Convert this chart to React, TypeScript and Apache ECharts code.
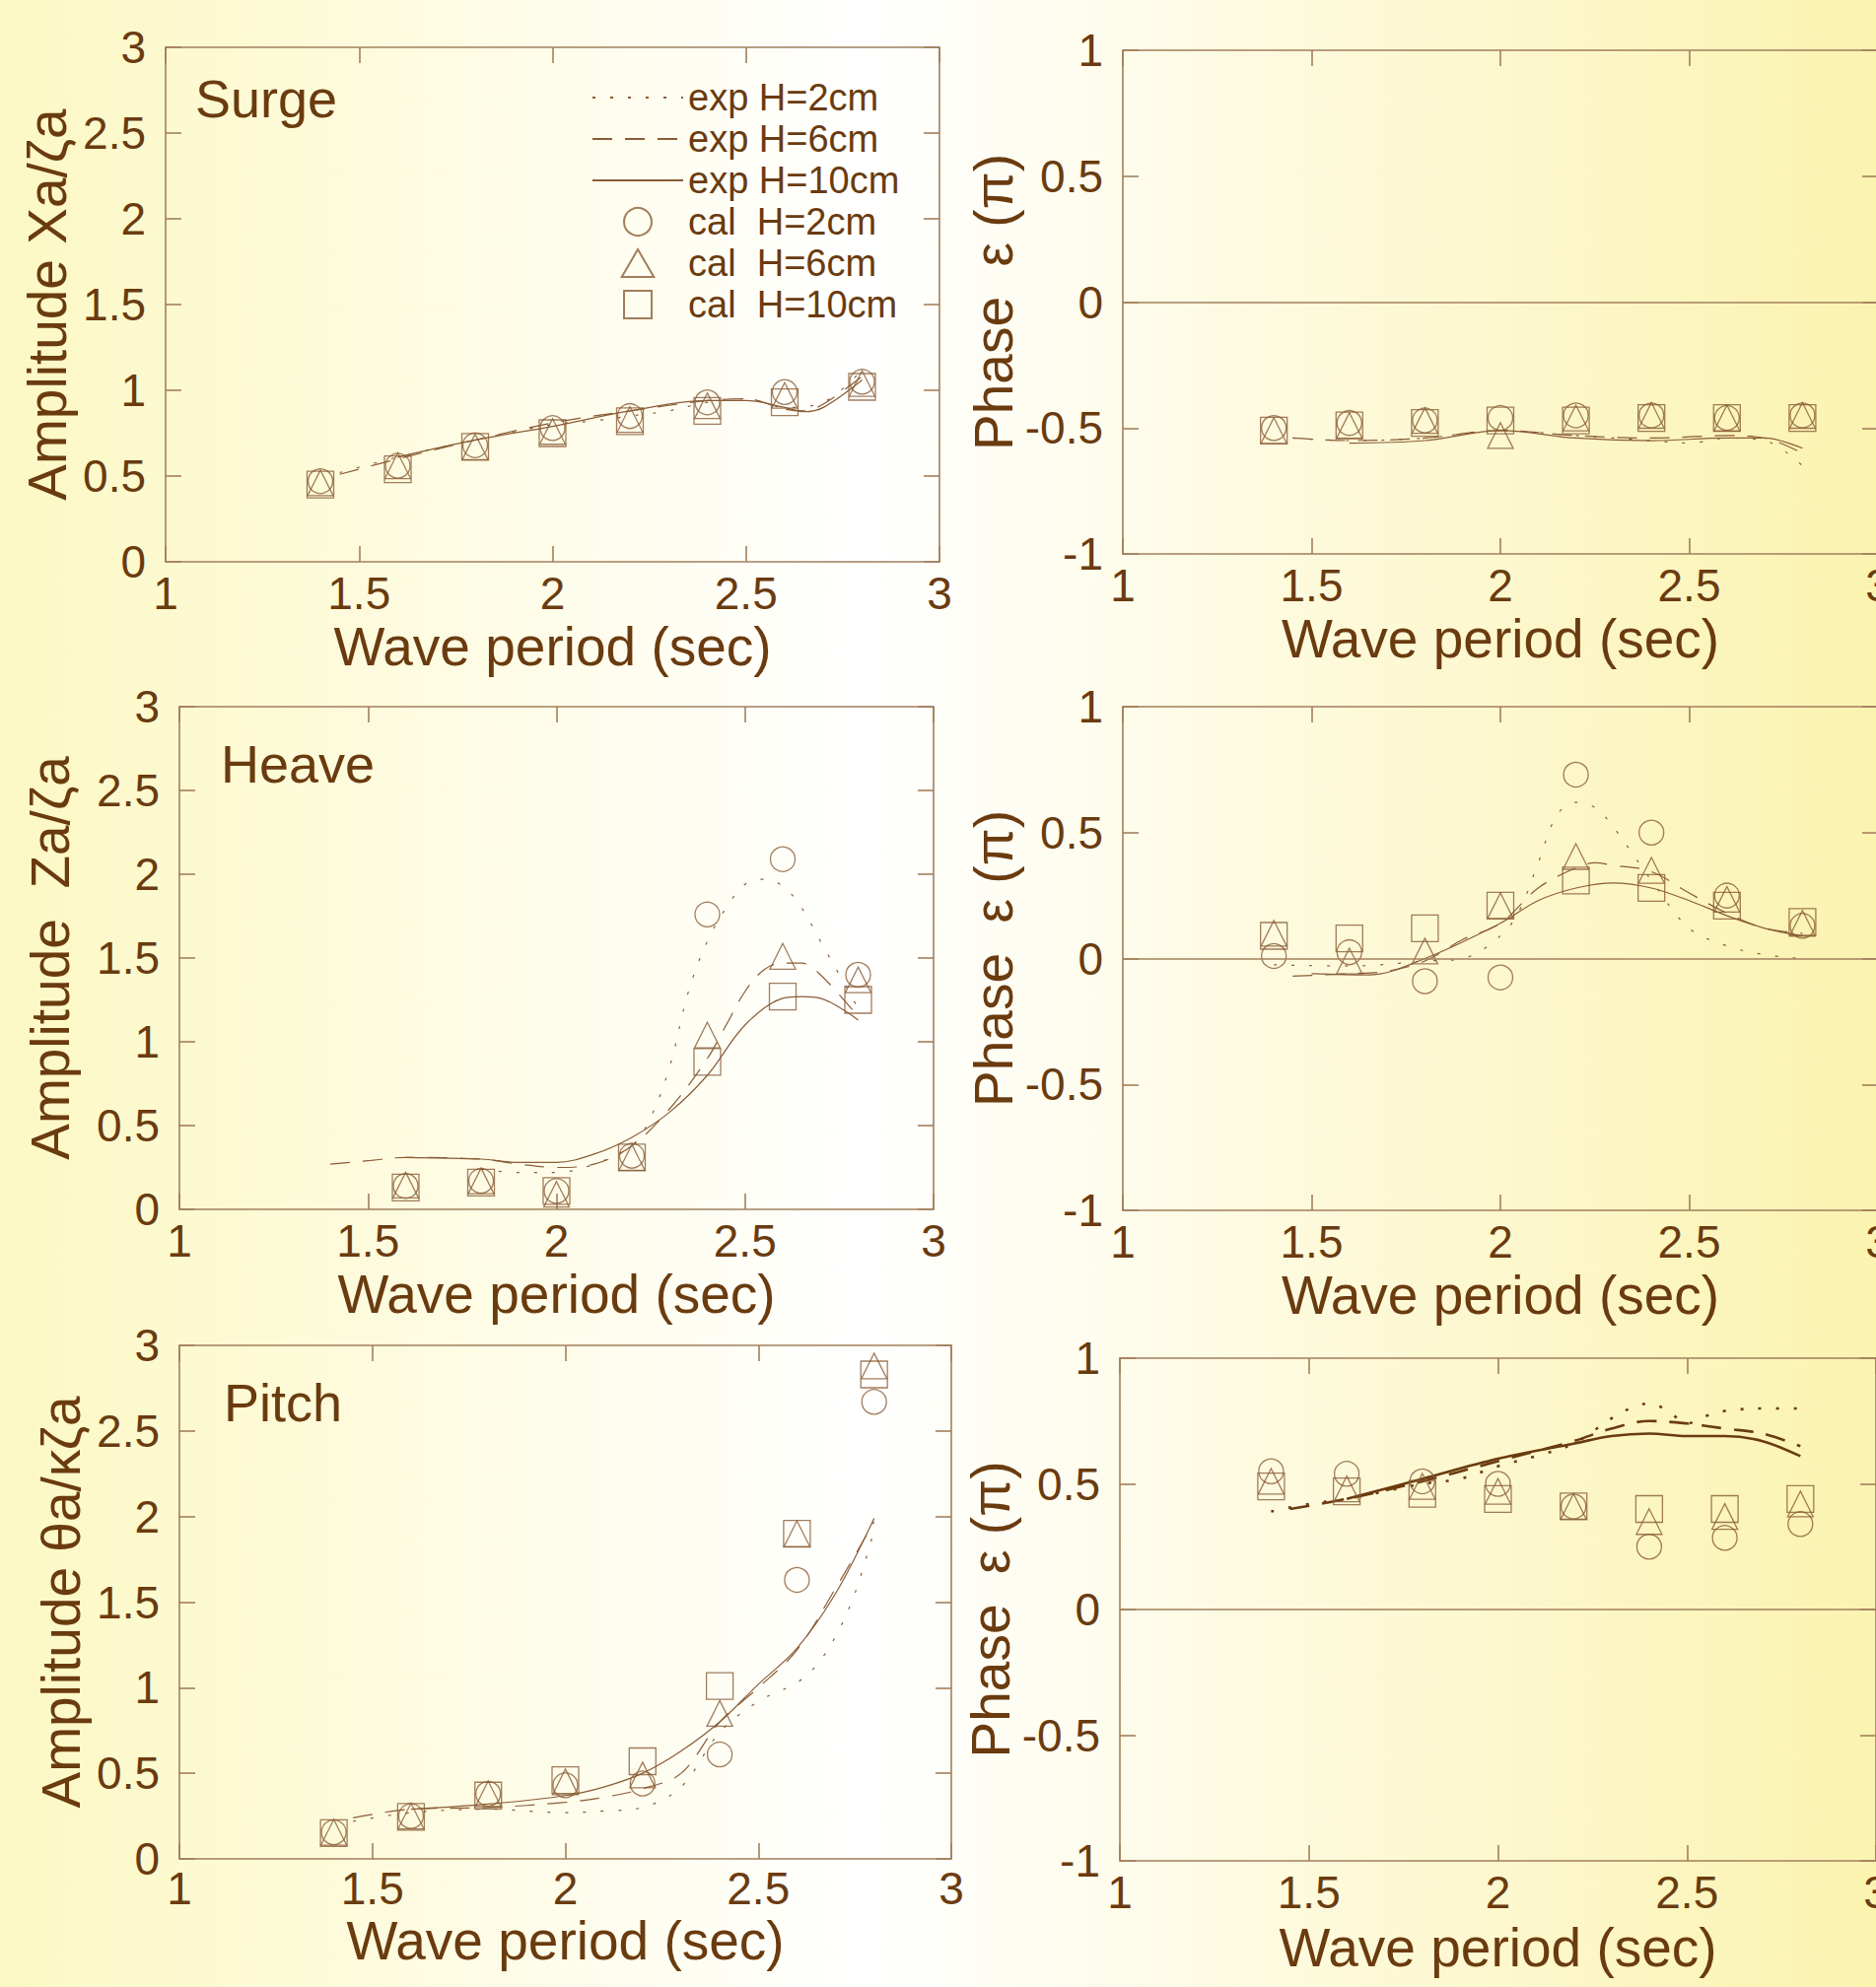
import React, { useEffect, useRef } from "react";
import * as echarts from "echarts";

const TEXT = "#6a3b0f";
const AXIS = "#a27f5c";
const LINE = "#8a5c36";
const FONT = "'Liberation Sans', Arial, Helvetica, sans-serif";

// wave periods of the calculated points (sec)
const periods = [1.4, 1.6, 1.8, 2.0, 2.2, 2.4, 2.6, 2.8];

// ---------- Surge amplitude ----------
const surgeAmpCal2 = [0.47, 0.56, 0.68, 0.78, 0.85, 0.93, 0.99, 1.05];
const surgeAmpCal6 = [0.46, 0.56, 0.67, 0.76, 0.83, 0.91, 0.97, 1.04];
const surgeAmpCal10 = [0.45, 0.54, 0.67, 0.75, 0.82, 0.88, 0.93, 1.02];
const surgeAmpExp2 = [[1.45, 0.52], [1.6, 0.61], [1.8, 0.71], [2.0, 0.8], [2.1, 0.82], [2.2, 0.85], [2.3, 0.88], [2.4, 0.93], [2.5, 0.95], [2.6, 0.9], [2.7, 0.93], [2.8, 1.12]];
const surgeAmpExp6 = [[1.45, 0.51], [1.6, 0.6], [1.8, 0.71], [2.0, 0.81], [2.2, 0.88], [2.4, 0.94], [2.5, 0.95], [2.6, 0.89], [2.65, 0.88], [2.7, 0.92], [2.8, 1.08]];
const surgeAmpExp10 = [[1.6, 0.61], [1.8, 0.71], [2.0, 0.79], [2.2, 0.88], [2.4, 0.94], [2.5, 0.94], [2.6, 0.9], [2.65, 0.875], [2.7, 0.9], [2.8, 1.06]];

// ---------- Surge phase ----------
const surgePhaseCal2 = [-0.5, -0.48, -0.47, -0.46, -0.45, -0.45, -0.46, -0.45];
const surgePhaseCal6 = [-0.51, -0.49, -0.47, -0.53, -0.46, -0.45, -0.46, -0.45];
const surgePhaseCal10 = [-0.51, -0.49, -0.48, -0.47, -0.47, -0.46, -0.46, -0.46];
const surgePhaseExp2 = [[1.45, -0.54], [1.6, -0.55], [1.8, -0.54], [2.0, -0.51], [2.2, -0.53], [2.4, -0.55], [2.5, -0.56], [2.6, -0.54], [2.7, -0.55], [2.8, -0.65]];
const surgePhaseExp6 = [[1.45, -0.54], [1.6, -0.55], [1.8, -0.54], [2.0, -0.51], [2.2, -0.53], [2.4, -0.54], [2.6, -0.53], [2.7, -0.54], [2.8, -0.6]];
const surgePhaseExp10 = [[1.6, -0.56], [1.8, -0.55], [2.0, -0.51], [2.2, -0.54], [2.4, -0.55], [2.6, -0.54], [2.7, -0.54], [2.8, -0.58]];

// ---------- Heave amplitude ----------
const heaveAmpCal2 = [null, 0.14, 0.17, 0.11, 0.32, 1.76, 2.09, 1.4];
const heaveAmpCal6 = [null, 0.145, 0.17, 0.09, 0.31, 1.04, 1.51, 1.37];
const heaveAmpCal10 = [null, 0.13, 0.16, 0.11, 0.31, 0.88, 1.27, 1.25];
const heaveAmpExp2 = [[1.8, 0.24], [1.9, 0.22], [2.0, 0.22], [2.1, 0.27], [2.2, 0.38], [2.25, 0.55], [2.3, 0.85], [2.35, 1.3], [2.4, 1.6], [2.45, 1.8], [2.5, 1.94], [2.55, 1.97], [2.6, 1.93], [2.65, 1.8], [2.7, 1.6], [2.75, 1.4], [2.8, 1.2]];
const heaveAmpExp6 = [[1.4, 0.27], [1.5, 0.29], [1.6, 0.31], [1.8, 0.3], [1.9, 0.27], [2.0, 0.25], [2.1, 0.27], [2.2, 0.38], [2.3, 0.6], [2.4, 0.9], [2.45, 1.1], [2.5, 1.3], [2.55, 1.43], [2.6, 1.47], [2.65, 1.47], [2.7, 1.4], [2.8, 1.15]];
const heaveAmpExp10 = [[1.6, 0.31], [1.8, 0.3], [1.9, 0.28], [2.0, 0.28], [2.1, 0.33], [2.2, 0.43], [2.3, 0.58], [2.4, 0.8], [2.5, 1.1], [2.6, 1.26], [2.65, 1.27], [2.7, 1.26], [2.8, 1.13]];

// ---------- Heave phase ----------
const heavePhaseCal2 = [0.01, 0.025, -0.09, -0.075, 0.73, 0.5, 0.25, 0.13];
const heavePhaseCal6 = [0.1, -0.01, 0.03, 0.21, 0.405, 0.35, 0.235, 0.14];
const heavePhaseCal10 = [0.09, 0.08, 0.12, 0.21, 0.31, 0.28, 0.21, 0.145];
const heavePhaseExp2 = [[1.4, -0.025], [1.6, -0.03], [1.8, -0.01], [1.9, 0.0], [2.0, 0.09], [2.05, 0.19], [2.1, 0.38], [2.15, 0.57], [2.2, 0.62], [2.25, 0.6], [2.3, 0.52], [2.4, 0.31], [2.5, 0.12], [2.6, 0.05], [2.7, 0.015], [2.8, 0.0]];
const heavePhaseExp6 = [[1.45, -0.07], [1.6, -0.06], [1.7, -0.05], [1.8, -0.01], [1.9, 0.075], [2.0, 0.14], [2.1, 0.28], [2.2, 0.36], [2.25, 0.38], [2.3, 0.37], [2.4, 0.345], [2.5, 0.26], [2.6, 0.18], [2.7, 0.12], [2.8, 0.1]];
const heavePhaseExp10 = [[1.5, -0.06], [1.65, -0.065], [1.8, 0.0], [2.0, 0.14], [2.1, 0.23], [2.2, 0.28], [2.3, 0.3], [2.4, 0.28], [2.5, 0.23], [2.6, 0.17], [2.7, 0.12], [2.8, 0.09]];

// ---------- Pitch amplitude ----------
const pitchAmpCal2 = [0.155, 0.25, 0.38, 0.43, 0.44, 0.61, 1.63, 2.67];
const pitchAmpCal6 = [0.155, 0.25, 0.38, 0.45, 0.49, 0.85, 1.9, 2.88];
const pitchAmpCal10 = [0.15, 0.245, 0.37, 0.46, 0.57, 1.01, 1.9, 2.83];
const pitchAmpExp2 = [[1.45, 0.22], [1.6, 0.27], [1.8, 0.29], [2.0, 0.27], [2.1, 0.28], [2.2, 0.3], [2.3, 0.42], [2.4, 0.74], [2.5, 0.92], [2.6, 1.03], [2.65, 1.13], [2.7, 1.3], [2.75, 1.55], [2.8, 1.92]];
const pitchAmpExp6 = [[1.45, 0.24], [1.6, 0.29], [1.8, 0.3], [2.0, 0.33], [2.1, 0.36], [2.2, 0.41], [2.3, 0.5], [2.4, 0.8], [2.5, 1.0], [2.6, 1.22], [2.7, 1.58], [2.8, 1.97]];
const pitchAmpExp10 = [[1.6, 0.29], [1.8, 0.32], [2.0, 0.37], [2.1, 0.42], [2.2, 0.5], [2.3, 0.63], [2.4, 0.8], [2.5, 1.02], [2.6, 1.23], [2.7, 1.55], [2.8, 1.99]];

// ---------- Pitch phase ----------
const pitchPhaseCal2 = [0.55, 0.54, 0.51, 0.5, 0.41, 0.25, 0.285, 0.34];
const pitchPhaseCal6 = [0.51, 0.48, 0.49, 0.47, 0.41, 0.35, 0.37, 0.42];
const pitchPhaseCal10 = [0.49, 0.47, 0.46, 0.44, 0.41, 0.4, 0.4, 0.44];
const pitchPhaseExp2 = [[1.4, 0.39], [1.5, 0.42], [1.6, 0.44], [1.7, 0.47], [1.8, 0.5], [1.9, 0.52], [2.0, 0.57], [2.1, 0.61], [2.2, 0.66], [2.3, 0.76], [2.35, 0.8], [2.4, 0.82], [2.45, 0.79], [2.5, 0.74], [2.55, 0.77], [2.6, 0.79], [2.7, 0.8], [2.8, 0.8]];
const pitchPhaseExp6 = [[1.45, 0.4], [1.6, 0.44], [1.8, 0.51], [2.0, 0.59], [2.2, 0.67], [2.3, 0.72], [2.4, 0.75], [2.5, 0.74], [2.6, 0.72], [2.7, 0.7], [2.8, 0.65]];
const pitchPhaseExp10 = [[1.6, 0.44], [1.8, 0.52], [2.0, 0.6], [2.2, 0.66], [2.3, 0.69], [2.4, 0.7], [2.5, 0.69], [2.6, 0.69], [2.7, 0.67], [2.8, 0.61]];

// ---------- labels ----------
const xAxisName = "Wave period (sec)";
const expNames = ["exp H=2cm", "exp H=6cm", "exp H=10cm"];
const calNames = ["cal  H=2cm", "cal  H=6cm", "cal  H=10cm"];
const panelTitles = ["Surge", "", "Heave", "", "Pitch", ""];
const yNames = ["Amplitude Xa/ζa", "Phase  ε (π)", "Amplitude  Za/ζa", "Phase  ε (π)", "Amplitude θa/κζa", "Phase  ε (π)"];

const panels = [
  { exp: [surgeAmpExp2, surgeAmpExp6, surgeAmpExp10], cal: [surgeAmpCal2, surgeAmpCal6, surgeAmpCal10], phase: false },
  { exp: [surgePhaseExp2, surgePhaseExp6, surgePhaseExp10], cal: [surgePhaseCal2, surgePhaseCal6, surgePhaseCal10], phase: true },
  { exp: [heaveAmpExp2, heaveAmpExp6, heaveAmpExp10], cal: [heaveAmpCal2, heaveAmpCal6, heaveAmpCal10], phase: false },
  { exp: [heavePhaseExp2, heavePhaseExp6, heavePhaseExp10], cal: [heavePhaseCal2, heavePhaseCal6, heavePhaseCal10], phase: true },
  { exp: [pitchAmpExp2, pitchAmpExp6, pitchAmpExp10], cal: [pitchAmpCal2, pitchAmpCal6, pitchAmpCal10], phase: false },
  { exp: [pitchPhaseExp2, pitchPhaseExp6, pitchPhaseExp10], cal: [pitchPhaseCal2, pitchPhaseCal6, pitchPhaseCal10], phase: true },
];

// layout
const grids = [
  { left: 168, top: 48, width: 785, height: 522 },
  { left: 1139, top: 51, width: 766, height: 511 },
  { left: 182, top: 717, width: 765, height: 510 },
  { left: 1139, top: 717, width: 766, height: 511 },
  { left: 182, top: 1365, width: 783, height: 521 },
  { left: 1136, top: 1378, width: 767, height: 510 },
];
const yNameGaps = [93, 102, 104, 102, 93, 102];
const xNameGaps = [63, 63, 63, 63, 60, 65];
const xLabelMargins = [9, 9, 9, 9, 7, 9];
const titlePos = [
  { left: 198, top: 73 },
  null,
  { left: 224, top: 748 },
  null,
  { left: 227, top: 1396 },
  null,
];

const dashTypes: any[] = [[3, 15], [20, 13], "solid"];
const symbols = ["circle", "triangle", "rect"];
const symbolSizes = [25, 26, 27];
const legendIcons = ["circle", "path://M5,0L10,8.6L0,8.6Z", "path://M0,0L10,0L10,10L0,10Z"];

function buildOption() {
  const xAxes: any[] = [];
  const yAxes: any[] = [];
  const series: any[] = [];
  const titles: any[] = [];

  const lineS = { color: AXIS, width: 1.6 };
  panels.forEach((p, i) => {
    const ymin = p.phase ? -1 : 0;
    const ymax = p.phase ? 1 : 3;
    const common = { type: "value", gridIndex: i, splitLine: { show: false } };
    xAxes.push({
      ...common, min: 1, max: 3, interval: 0.5, position: "bottom",
      axisLine: { show: true, onZero: false, lineStyle: lineS },
      axisTick: { show: true, inside: true, length: 16, lineStyle: lineS },
      axisLabel: { show: true, color: TEXT, fontSize: 46, lineHeight: 46, fontFamily: FONT, margin: xLabelMargins[i], showMinLabel: true, showMaxLabel: true },
      name: xAxisName, nameLocation: "middle", nameGap: xNameGaps[i],
      nameTextStyle: { color: TEXT, fontSize: 55, lineHeight: 46, fontFamily: FONT },
    });
    xAxes.push({
      ...common, min: 1, max: 3, interval: 0.5, position: "top",
      axisLine: { show: true, onZero: false, lineStyle: lineS },
      axisTick: { show: true, inside: true, length: 16, lineStyle: lineS },
      axisLabel: { show: false },
    });
    yAxes.push({
      ...common, min: ymin, max: ymax, interval: 0.5, position: "left",
      axisLine: { show: true, onZero: false, lineStyle: lineS },
      axisTick: { show: true, inside: true, length: 16, lineStyle: lineS },
      axisLabel: { show: true, color: TEXT, fontSize: 46, fontFamily: FONT, margin: 20, showMinLabel: true, showMaxLabel: true },
      name: yNames[i], nameLocation: "middle", nameGap: yNameGaps[i],
      nameTextStyle: { color: TEXT, fontSize: 55, fontFamily: FONT },
    });
    yAxes.push({
      ...common, min: ymin, max: ymax, interval: 0.5, position: "right",
      axisLine: { show: true, onZero: false, lineStyle: lineS },
      axisTick: { show: true, inside: true, length: 16, lineStyle: lineS },
      axisLabel: { show: false },
    });

    const strong = i === 5;
    p.exp.forEach((d, k) => {
      const s: any = {
        type: "line", name: expNames[k], xAxisIndex: 2 * i, yAxisIndex: 2 * i,
        data: d, symbol: "none", showSymbol: false, smooth: 0.35,
        lineStyle: { color: strong ? TEXT : LINE, width: strong ? 2.6 : 1.2, type: dashTypes[k] },
        itemStyle: { color: strong ? TEXT : LINE },
        z: 3,
      };
      if (p.phase && k === 0) {
        s.markLine = {
          silent: true, symbol: ["none", "none"], label: { show: false },
          lineStyle: { color: AXIS, width: 1.6, type: "solid" },
          emphasis: { disabled: true },
          data: [{ yAxis: 0 }],
        };
      }
      series.push(s);
    });
    p.cal.forEach((vals, k) => {
      series.push({
        type: "scatter", name: calNames[k], xAxisIndex: 2 * i, yAxisIndex: 2 * i,
        data: periods.map((x, j) => [x, vals[j]]).filter((pt) => pt[1] !== null),
        symbol: symbols[k], symbolSize: symbolSizes[k],
        itemStyle: { color: "rgba(0,0,0,0)", borderColor: LINE, borderWidth: 1.3 },
        z: 4,
      });
    });

    if (panelTitles[i] && titlePos[i]) {
      titles.push({
        text: panelTitles[i], left: titlePos[i]!.left, top: titlePos[i]!.top, padding: 0,
        textStyle: { color: TEXT, fontSize: 54, fontWeight: "normal", fontFamily: FONT },
      });
    }
  });

  return {
    animation: false,
    backgroundColor: new echarts.graphic.LinearGradient(0, 0, 1, 0, [
      { offset: 0, color: "#fcf8c4" },
      { offset: 0.46, color: "#ffffff" },
      { offset: 1, color: "#fbf3b0" },
    ]),
    title: titles,
    legend: {
      orient: "vertical", left: 600, top: 80, itemWidth: 92, itemHeight: 28, itemGap: 4,
      padding: 0, symbolKeepAspect: true,
      textStyle: { color: TEXT, fontSize: 38, fontFamily: FONT },
      data: [
        ...expNames.map((n) => ({ name: n, itemStyle: { opacity: 0 } })),
        ...calNames.map((n, k) => ({ name: n, icon: legendIcons[k] })),
      ],
    },
    grid: grids.map((g) => ({ ...g, containLabel: false, outerBoundsMode: "none" })),
    xAxis: xAxes,
    yAxis: yAxes,
    series,
  };
}

export default function App() {
  const ref = useRef<HTMLDivElement>(null);
  useEffect(() => {
    if (!ref.current) return;
    const chart = echarts.init(ref.current, undefined, { renderer: "svg" });
    chart.setOption(buildOption() as any);
    return () => chart.dispose();
  }, []);
  return (
    <div
      ref={ref}
      style={{ position: "absolute", left: 0, top: 0, width: 1903, height: 2016 }}
    />
  );
}
